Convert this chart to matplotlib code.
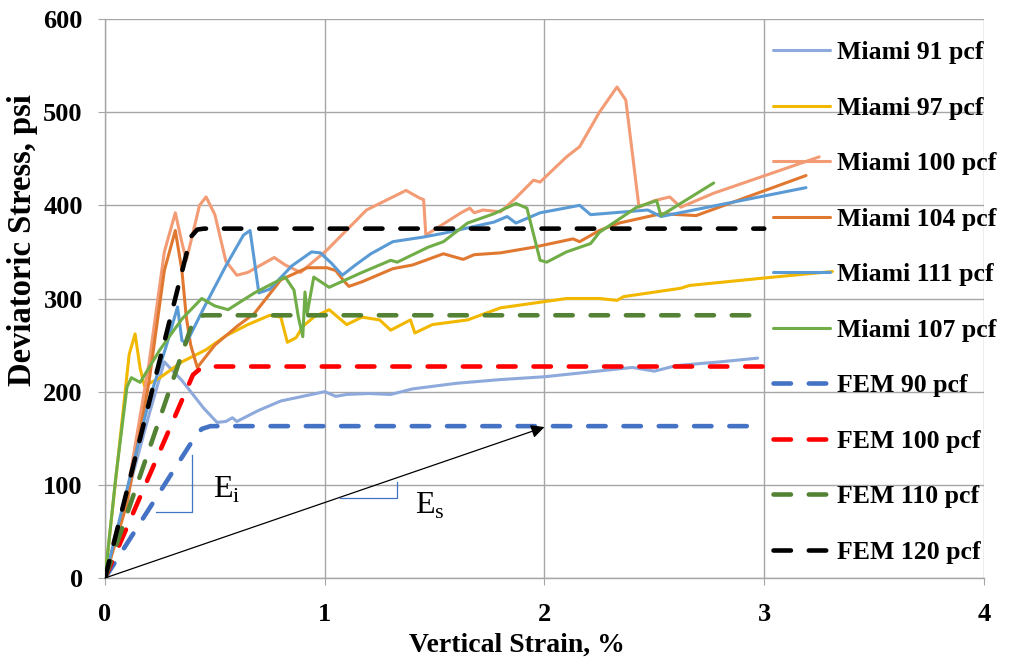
import numpy as np
import matplotlib
matplotlib.use("Agg")
import matplotlib.pyplot as plt

plt.rcParams['font.family'] = ['Liberation Serif', 'DejaVu Serif']
plt.rcParams['mathtext.fontset'] = 'custom'
plt.rcParams['mathtext.rm'] = 'Liberation Serif'

# ---- measured curves (strain %, stress psi) ----
m91_x = [0, 0.1, 0.2, 0.27, 0.35, 0.45, 0.51, 0.55, 0.58, 0.6, 0.7, 0.8, 0.9, 1.0, 1.05,
         1.1, 1.2, 1.3, 1.4, 1.6, 1.8, 2.0, 2.2, 2.4, 2.5, 2.6, 2.8, 2.97]
m91_y = [0, 88, 175, 232, 212, 182, 167, 168, 172, 168, 180, 190, 195, 200, 195,
         197, 198, 197, 203, 209, 213, 216, 221, 226, 222, 228, 232, 236]

m97_x = [0, 0.06, 0.11, 0.137, 0.16, 0.18, 0.25, 0.35, 0.46, 0.55, 0.65, 0.75, 0.8, 0.83,
         0.87, 0.9, 0.95, 1.02, 1.1, 1.17, 1.25, 1.3, 1.39, 1.41, 1.49, 1.65, 1.8, 2.1,
         2.25, 2.33, 2.36, 2.62, 2.66, 3.0, 3.31]
m97_y = [0, 130, 240, 262, 225, 206, 215, 232, 245, 260, 272, 282, 280, 253,
         258, 270, 280, 288, 272, 280, 277, 266, 277, 263, 272, 277, 290, 300,
         300, 298, 302, 311, 314, 322, 329]

m100_x = [0, 0.1, 0.2, 0.27, 0.32, 0.35, 0.37, 0.4, 0.43, 0.46, 0.5, 0.55, 0.6, 0.65, 0.77,
          0.82, 0.89, 1.01, 1.19, 1.37, 1.43, 1.45, 1.46, 1.52, 1.62, 1.66, 1.68, 1.72,
          1.8, 1.87, 1.95, 1.98, 2.1, 2.16, 2.25, 2.33, 2.37, 2.43, 2.5, 2.57, 2.62, 2.77, 3.25]
m100_y = [0, 90, 230, 350, 392, 360, 341, 370, 400, 409, 390, 340, 325, 328, 344,
          336, 328, 352, 395, 416, 408, 406, 368, 377, 392, 397, 392, 395,
          393, 408, 427, 425, 452, 463, 500, 527, 513, 398, 405, 409, 398, 413, 452]

m104_x = [0, 0.1, 0.2, 0.27, 0.32, 0.35, 0.37, 0.39, 0.42, 0.5, 0.6, 0.68, 0.8, 0.92, 1.01,
          1.05, 1.09, 1.11, 1.17, 1.31, 1.4, 1.54, 1.63, 1.68, 1.8, 1.95, 2.13, 2.16, 2.25,
          2.34, 2.53, 2.69, 3.19]
m104_y = [0, 80, 210, 330, 373, 330, 280, 250, 226, 250, 270, 284, 320, 333, 333,
          330, 318, 313, 318, 332, 336, 348, 342, 347, 349, 355, 364, 361, 373,
          381, 391, 389, 432]

m111_x = [0, 0.1, 0.2, 0.28, 0.33, 0.35, 0.37, 0.45, 0.55, 0.63, 0.66, 0.68, 0.7, 0.75, 0.85,
          0.94, 0.98, 1.03, 1.08, 1.14, 1.21, 1.31, 1.45, 1.54, 1.77, 1.83, 1.87, 1.98, 2.16,
          2.21, 2.47, 2.53, 3.19]
m111_y = [0, 95, 190, 250, 291, 255, 252, 290, 335, 368, 373, 340, 306, 310, 335,
          350, 349, 338, 325, 336, 348, 361, 366, 370, 382, 388, 381, 392, 400,
          390, 395, 388, 419]

m107_x = [0, 0.05, 0.1, 0.12, 0.16, 0.25, 0.35, 0.44, 0.5, 0.56, 0.68, 0.82, 0.86, 0.88, 0.9,
          0.91, 0.92, 0.95, 1.02, 1.16, 1.3, 1.33, 1.47, 1.54, 1.65, 1.77, 1.87, 1.92, 1.98,
          2.01, 2.1, 2.21, 2.25, 2.42, 2.51, 2.53, 2.77]
m107_y = [0, 110, 205, 215, 210, 245, 278, 300, 292, 288, 306, 323, 309, 280, 259,
          307, 284, 323, 312, 327, 341, 339, 355, 361, 381, 391, 402, 397, 341,
          339, 350, 359, 371, 398, 405, 389, 424]

fem90_x = [0, 0.40, 0.44, 0.48, 3.0]
fem90_y = [0, 148, 160, 163, 163]
fem100_x = [0, 0.40, 0.44, 0.48, 3.0]
fem100_y = [0, 218, 226, 227, 227]
fem110_x = [0, 0.39, 0.42, 0.45, 2.95]
fem110_y = [0, 268, 280, 282, 282]
fem120_x = [0, 0.39, 0.42, 0.45, 3.0]
fem120_y = [0, 366, 374, 375, 375]

miami = [
    ("Miami 91 pcf", m91_x, m91_y, "#8EA9DB"),
    ("Miami 97 pcf", m97_x, m97_y, "#F2B800"),
    ("Miami 100 pcf", m100_x, m100_y, "#F29B74"),
    ("Miami 104 pcf", m104_x, m104_y, "#E07830"),
    ("Miami 111 pcf", m111_x, m111_y, "#5B9BD5"),
    ("Miami 107 pcf", m107_x, m107_y, "#70AD47"),
]
fem = [
    ("FEM 90 pcf", fem90_x, fem90_y, "#4472C4"),
    ("FEM 100 pcf", fem100_x, fem100_y, "#FF0000"),
    ("FEM 110 pcf", fem110_x, fem110_y, "#548235"),
    ("FEM 120 pcf", fem120_x, fem120_y, "#000000"),
]

fig = plt.figure(figsize=(10.12, 6.62), dpi=100)
ax = fig.add_axes([105 / 1012, 1 - 578 / 662, (984 - 105) / 1012, (578 - 19) / 662])

for name, xs, ys, c in miami:
    ax.plot(xs, ys, color=c, lw=2.2, label=name, solid_joinstyle='round',
            solid_capstyle='round', zorder=3)
for name, xs, ys, c in fem:
    ax.plot(xs, ys, color=c, lw=3.3, label=name, dashes=(3.8, 3.9),
            dash_capstyle='round', zorder=4)

# secant arrow and slope markers
ax.annotate("", xy=(2.0, 162), xytext=(0, 0),
            arrowprops=dict(arrowstyle='-|>', color='black', lw=0.9,
                            mutation_scale=20, shrinkA=0, shrinkB=0), zorder=5)
ax.plot([0.23, 0.396, 0.396], [71, 71, 132], color='#4472C4', lw=0.9, zorder=5)
ax.plot([1.07, 1.33, 1.33], [86, 86, 103], color='#4472C4', lw=0.9, zorder=5)
ax.text(0.49, 95, r"E$_{\mathregular{i}}$", fontsize=23, va='center', ha='left')
ax.text(1.41, 78, r"E$_{\mathregular{s}}$", fontsize=23, va='center', ha='left')

ax.set_xlim(0, 4)
ax.set_ylim(0, 600)
ax.set_xticks([0, 1, 2, 3, 4])
ax.set_yticks(range(0, 601, 100))
ax.grid(True, color='#A6A6A6', lw=1.0)
ax.set_axisbelow(True)
for s in ['top', 'right']:
    ax.spines[s].set_visible(False)
for s in ['left', 'bottom']:
    ax.spines[s].set_color('#A6A6A6')
    ax.spines[s].set_linewidth(1.0)
ax.tick_params(axis='y', direction='out', length=5, color='#A6A6A6', labelsize=19, pad=11)
ax.tick_params(axis='x', direction='out', length=5, color='#A6A6A6', labelsize=19, pad=13)
for lab in ax.get_xticklabels() + ax.get_yticklabels():
    lab.set_fontweight('bold')

ax.set_xlabel("Vertical Strain, %", fontsize=20, fontweight='bold')
ax.xaxis.set_label_coords((517 - 105) / 879, -(633 - 578) / 559)
ax.set_ylabel("Deviatoric Stress, psi", fontsize=23.5, fontweight='bold')
ax.yaxis.set_label_coords(-(105 - 38) / 879, (578 - 240) / 559)

leg = fig.legend(loc='upper left', bbox_to_anchor=(773 / 1012, 1 - 41 / 662),
                 frameon=False, prop=dict(family='Liberation Serif', weight='bold', size=18.5),
                 handlelength=2.2, handletextpad=0.31, labelspacing=1.265,
                 borderpad=0, borderaxespad=0)

fig.savefig("out.png", dpi=100)
